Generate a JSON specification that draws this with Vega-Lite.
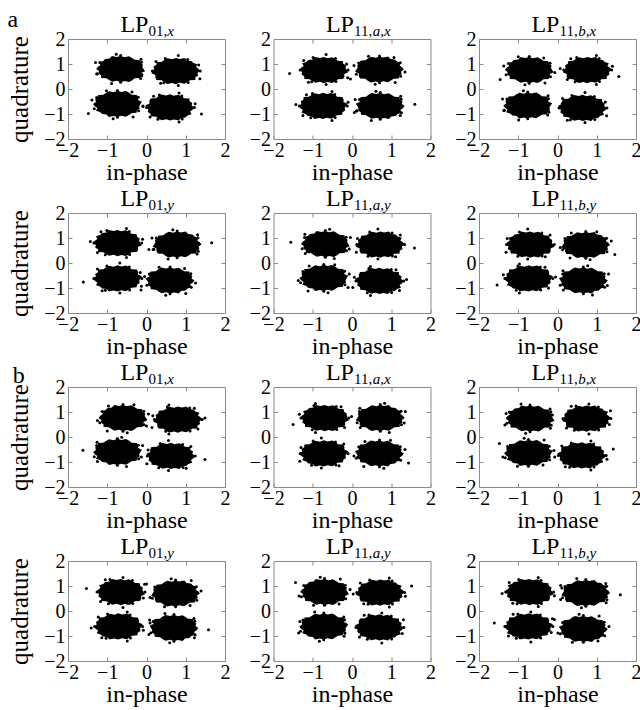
{
"$schema":"https://vega.github.io/schema/vega-lite/v6.json",
"padding":{"left":7,"top":7,"right":0,"bottom":0},
"columns":3,
"spacing":{"row":74,"column":48.5},
"bounds":"flush",
"config":{
"font":"Liberation Serif",
"view":{"stroke":"#8a8a8a","strokeWidth":1},
"axis":{"domain":false,"grid":false,"ticks":true,"tickSize":-4,"tickColor":"#8a8a8a","labelFont":"Liberation Serif","labelFontSize":20,"labelColor":"#000","labelPadding":5,"labelFlush":false,"labelOverlap":false,"labelBound":false,"titleFont":"Liberation Serif","titleFontWeight":"normal","titleColor":"#000","titleFontSize":24},
"axisX":{"titlePadding":0},
"axisY":{"titleFontSize":25,"titlePadding":11,"labelPadding":7},
"text":{"font":"Liberation Serif","color":"#000","baseline":"alphabetic"},
"range":{"symbol":[
"M1,0L1.064,0.103L0.893,0.179L0.901,0.286L0.843,0.389L0.617,0.404L0.51,0.486L0.373,0.564L0.169,0.525L0,0.578L-0.164,0.509L-0.366,0.553L-0.5,0.476L-0.617,0.404L-0.843,0.389L-0.849,0.27L-0.968,0.194L-0.936,0.091L-1.06,0L-0.985,-0.096L-0.874,-0.175L-0.935,-0.297L-0.758,-0.35L-0.669,-0.438L-0.48,-0.457L-0.376,-0.569L-0.169,-0.525L0,-0.561L0.164,-0.509L0.366,-0.553L0.5,-0.476L0.611,-0.4L0.835,-0.385L0.849,-0.27L0.968,-0.194L0.946,-0.092Z",
"M-1,0L-1.064,0.103L-0.893,0.179L-0.901,0.286L-0.843,0.389L-0.617,0.404L-0.51,0.486L-0.373,0.564L-0.169,0.525L0,0.578L0.164,0.509L0.366,0.553L0.5,0.476L0.617,0.404L0.843,0.389L0.849,0.27L0.968,0.194L0.936,0.091L1.06,0L0.985,-0.096L0.874,-0.175L0.935,-0.297L0.758,-0.35L0.669,-0.438L0.48,-0.457L0.376,-0.569L0.169,-0.525L0,-0.561L-0.164,-0.509L-0.366,-0.553L-0.5,-0.476L-0.611,-0.4L-0.835,-0.385L-0.849,-0.27L-0.968,-0.194L-0.946,-0.092Z",
"M1,0L1.064,-0.103L0.893,-0.179L0.901,-0.286L0.843,-0.389L0.617,-0.404L0.51,-0.486L0.373,-0.564L0.169,-0.525L0,-0.578L-0.164,-0.509L-0.366,-0.553L-0.5,-0.476L-0.617,-0.404L-0.843,-0.389L-0.849,-0.27L-0.968,-0.194L-0.936,-0.091L-1.06,0L-0.985,0.096L-0.874,0.175L-0.935,0.297L-0.758,0.35L-0.669,0.438L-0.48,0.457L-0.376,0.569L-0.169,0.525L0,0.561L0.164,0.509L0.366,0.553L0.5,0.476L0.611,0.4L0.835,0.385L0.849,0.27L0.968,0.194L0.946,0.092Z",
"M-1,0L-1.064,-0.103L-0.893,-0.179L-0.901,-0.286L-0.843,-0.389L-0.617,-0.404L-0.51,-0.486L-0.373,-0.564L-0.169,-0.525L0,-0.578L0.164,-0.509L0.366,-0.553L0.5,-0.476L0.617,-0.404L0.843,-0.389L0.849,-0.27L0.968,-0.194L0.936,-0.091L1.06,0L0.985,0.096L0.874,0.175L0.935,0.297L0.758,0.35L0.669,0.438L0.48,0.457L0.376,0.569L0.169,0.525L0,0.561L-0.164,0.509L-0.366,0.553L-0.5,0.476L-0.611,0.4L-0.835,0.385L-0.849,0.27L-0.968,0.194L-0.946,0.092Z"
]}
},
"datasets":{
"ttl":[
{"p":1,"m":"LP","s":"01,","i":"x","g":"a"},
{"p":2,"m":"LP","s":"11,","i":"a,x","g":""},
{"p":3,"m":"LP","s":"11,","i":"b,x","g":""},
{"p":4,"m":"LP","s":"01,","i":"y","g":""},
{"p":5,"m":"LP","s":"11,","i":"a,y","g":""},
{"p":6,"m":"LP","s":"11,","i":"b,y","g":""},
{"p":7,"m":"LP","s":"01,","i":"x","g":"b"},
{"p":8,"m":"LP","s":"11,","i":"a,x","g":""},
{"p":9,"m":"LP","s":"11,","i":"b,x","g":""},
{"p":10,"m":"LP","s":"01,","i":"y","g":""},
{"p":11,"m":"LP","s":"11,","i":"a,y","g":""},
{"p":12,"m":"LP","s":"11,","i":"b,y","g":""}
],
"core":[
{"p":1,"q":"UL","x":-0.66,"y":0.80},{"p":1,"q":"UR","x":0.75,"y":0.72},{"p":1,"q":"LL","x":-0.74,"y":-0.60},{"p":1,"q":"LR","x":0.60,"y":-0.74},
{"p":2,"q":"UL","x":-0.72,"y":0.76},{"p":2,"q":"UR","x":0.70,"y":0.78},{"p":2,"q":"LL","x":-0.74,"y":-0.68},{"p":2,"q":"LR","x":0.72,"y":-0.68},
{"p":3,"q":"UL","x":-0.72,"y":0.76},{"p":3,"q":"UR","x":0.76,"y":0.76},{"p":3,"q":"LL","x":-0.76,"y":-0.66},{"p":3,"q":"LR","x":0.64,"y":-0.76},
{"p":4,"q":"UL","x":-0.74,"y":0.80},{"p":4,"q":"UR","x":0.78,"y":0.74},{"p":4,"q":"LL","x":-0.74,"y":-0.62},{"p":4,"q":"LR","x":0.60,"y":-0.70},
{"p":5,"q":"UL","x":-0.68,"y":0.76},{"p":5,"q":"UR","x":0.72,"y":0.74},{"p":5,"q":"LL","x":-0.72,"y":-0.60},{"p":5,"q":"LR","x":0.70,"y":-0.72},
{"p":6,"q":"UL","x":-0.70,"y":0.74},{"p":6,"q":"UR","x":0.72,"y":0.72},{"p":6,"q":"LL","x":-0.74,"y":-0.62},{"p":6,"q":"LR","x":0.66,"y":-0.70},
{"p":7,"q":"UL","x":-0.60,"y":0.76},{"p":7,"q":"UR","x":0.80,"y":0.70},{"p":7,"q":"LL","x":-0.74,"y":-0.60},{"p":7,"q":"LR","x":0.62,"y":-0.76},
{"p":8,"q":"UL","x":-0.70,"y":0.76},{"p":8,"q":"UR","x":0.72,"y":0.76},{"p":8,"q":"LL","x":-0.72,"y":-0.66},{"p":8,"q":"LR","x":0.70,"y":-0.66},
{"p":9,"q":"UL","x":-0.70,"y":0.74},{"p":9,"q":"UR","x":0.74,"y":0.74},{"p":9,"q":"LL","x":-0.74,"y":-0.64},{"p":9,"q":"LR","x":0.62,"y":-0.74},
{"p":10,"q":"UL","x":-0.66,"y":0.76},{"p":10,"q":"UR","x":0.74,"y":0.70},{"p":10,"q":"LL","x":-0.72,"y":-0.62},{"p":10,"q":"LR","x":0.70,"y":-0.68},
{"p":11,"q":"UL","x":-0.70,"y":0.76},{"p":11,"q":"UR","x":0.72,"y":0.74},{"p":11,"q":"LL","x":-0.72,"y":-0.62},{"p":11,"q":"LR","x":0.70,"y":-0.66},
{"p":12,"q":"UL","x":-0.72,"y":0.76},{"p":12,"q":"UR","x":0.72,"y":0.72},{"p":12,"q":"LL","x":-0.74,"y":-0.62},{"p":12,"q":"LR","x":0.66,"y":-0.72}
],
"pts":[
{"p":1,"x":-0.14,"y":1.19},{"p":1,"x":-0.77,"y":1.39},{"p":1,"x":-1.30,"y":1.06},{"p":1,"x":-1.27,"y":0.60},{"p":1,"x":-0.89,"y":0.22},{"p":1,"x":-0.15,"y":0.42},{"p":1,"x":0.22,"y":0.87},
{"p":1,"x":1.33,"y":0.96},{"p":1,"x":0.81,"y":1.34},{"p":1,"x":0.24,"y":1.10},{"p":1,"x":-0.12,"y":0.58},{"p":1,"x":0.36,"y":0.23},{"p":1,"x":0.81,"y":0.14},{"p":1,"x":1.36,"y":0.41},
{"p":1,"x":-0.37,"y":-0.12},{"p":1,"x":-1.02,"y":-0.07},{"p":1,"x":-1.39,"y":-0.44},{"p":1,"x":-1.48,"y":-0.98},{"p":1,"x":-0.85,"y":-1.19},{"p":1,"x":-0.34,"y":-1.12},{"p":1,"x":-0.09,"y":-0.70},
{"p":1,"x":1.24,"y":-0.59},{"p":1,"x":0.83,"y":-0.16},{"p":1,"x":0.18,"y":-0.29},{"p":1,"x":-0.09,"y":-0.68},{"p":1,"x":0.09,"y":-1.12},{"p":1,"x":0.83,"y":-1.32},{"p":1,"x":1.40,"y":-1.00},
{"p":1,"x":-0.13,"y":1.07},{"p":1,"x":-0.66,"y":1.34},{"p":1,"x":-1.19,"y":1.06},{"p":1,"x":-1.25,"y":0.61},{"p":1,"x":-0.66,"y":0.27},{"p":1,"x":-0.12,"y":0.53},
{"p":1,"x":1.37,"y":0.72},{"p":1,"x":1.05,"y":1.18},{"p":1,"x":0.48,"y":1.22},{"p":1,"x":0.15,"y":0.72},{"p":1,"x":0.44,"y":0.25},{"p":1,"x":1.06,"y":0.26},
{"p":1,"x":-0.21,"y":-0.33},{"p":1,"x":-0.74,"y":-0.06},{"p":1,"x":-1.27,"y":-0.34},{"p":1,"x":-1.33,"y":-0.79},{"p":1,"x":-0.74,"y":-1.13},{"p":1,"x":-0.20,"y":-0.87},
{"p":1,"x":1.22,"y":-0.74},{"p":1,"x":0.90,"y":-0.28},{"p":1,"x":0.33,"y":-0.24},{"p":1,"x":0.00,"y":-0.74},{"p":1,"x":0.29,"y":-1.21},{"p":1,"x":0.91,"y":-1.20},
{"p":2,"x":-0.14,"y":1.00},{"p":2,"x":-0.66,"y":1.38},{"p":2,"x":-1.23,"y":1.14},{"p":2,"x":-1.59,"y":0.62},{"p":2,"x":-1.11,"y":0.27},{"p":2,"x":-0.66,"y":0.18},{"p":2,"x":-0.11,"y":0.45},
{"p":2,"x":1.07,"y":1.26},{"p":2,"x":0.42,"y":1.31},{"p":2,"x":0.05,"y":0.94},{"p":2,"x":-0.04,"y":0.40},{"p":2,"x":0.59,"y":0.19},{"p":2,"x":1.10,"y":0.26},{"p":2,"x":1.35,"y":0.68},
{"p":2,"x":-0.10,"y":-0.53},{"p":2,"x":-0.51,"y":-0.10},{"p":2,"x":-1.16,"y":-0.23},{"p":2,"x":-1.43,"y":-0.62},{"p":2,"x":-1.25,"y":-1.06},{"p":2,"x":-0.51,"y":-1.26},{"p":2,"x":0.06,"y":-0.94},
{"p":2,"x":1.24,"y":-0.29},{"p":2,"x":0.61,"y":-0.09},{"p":2,"x":0.08,"y":-0.42},{"p":2,"x":0.11,"y":-0.88},{"p":2,"x":0.49,"y":-1.26},{"p":2,"x":1.23,"y":-1.06},{"p":2,"x":1.60,"y":-0.61},
{"p":2,"x":-0.10,"y":0.76},{"p":2,"x":-0.42,"y":1.22},{"p":2,"x":-0.99,"y":1.26},{"p":2,"x":-1.32,"y":0.76},{"p":2,"x":-1.03,"y":0.29},{"p":2,"x":-0.41,"y":0.30},
{"p":2,"x":1.23,"y":1.05},{"p":2,"x":0.70,"y":1.32},{"p":2,"x":0.17,"y":1.04},{"p":2,"x":0.11,"y":0.59},{"p":2,"x":0.70,"y":0.25},{"p":2,"x":1.24,"y":0.51},
{"p":2,"x":-0.12,"y":-0.68},{"p":2,"x":-0.44,"y":-0.22},{"p":2,"x":-1.01,"y":-0.18},{"p":2,"x":-1.34,"y":-0.68},{"p":2,"x":-1.05,"y":-1.15},{"p":2,"x":-0.43,"y":-1.14},
{"p":2,"x":1.25,"y":-0.41},{"p":2,"x":0.72,"y":-0.14},{"p":2,"x":0.19,"y":-0.42},{"p":2,"x":0.13,"y":-0.87},{"p":2,"x":0.72,"y":-1.21},{"p":2,"x":1.26,"y":-0.95},
{"p":3,"x":-0.35,"y":1.24},{"p":3,"x":-1.00,"y":1.29},{"p":3,"x":-1.37,"y":0.92},{"p":3,"x":-1.46,"y":0.38},{"p":3,"x":-0.83,"y":0.17},{"p":3,"x":-0.32,"y":0.24},{"p":3,"x":-0.07,"y":0.66},
{"p":3,"x":1.40,"y":0.91},{"p":3,"x":0.99,"y":1.34},{"p":3,"x":0.34,"y":1.21},{"p":3,"x":0.07,"y":0.82},{"p":3,"x":0.25,"y":0.38},{"p":3,"x":0.99,"y":0.18},{"p":3,"x":1.56,"y":0.50},
{"p":3,"x":-0.24,"y":-0.27},{"p":3,"x":-0.87,"y":-0.07},{"p":3,"x":-1.40,"y":-0.40},{"p":3,"x":-1.37,"y":-0.86},{"p":3,"x":-0.99,"y":-1.24},{"p":3,"x":-0.25,"y":-1.04},{"p":3,"x":0.12,"y":-0.59},
{"p":3,"x":1.22,"y":-0.52},{"p":3,"x":0.70,"y":-0.14},{"p":3,"x":0.13,"y":-0.38},{"p":3,"x":-0.23,"y":-0.90},{"p":3,"x":0.25,"y":-1.25},{"p":3,"x":0.70,"y":-1.34},{"p":3,"x":1.25,"y":-1.07},
{"p":3,"x":-0.19,"y":1.03},{"p":3,"x":-0.72,"y":1.30},{"p":3,"x":-1.25,"y":1.02},{"p":3,"x":-1.31,"y":0.57},{"p":3,"x":-0.72,"y":0.23},{"p":3,"x":-0.18,"y":0.49},
{"p":3,"x":1.38,"y":0.76},{"p":3,"x":1.06,"y":1.22},{"p":3,"x":0.49,"y":1.26},{"p":3,"x":0.16,"y":0.76},{"p":3,"x":0.45,"y":0.29},{"p":3,"x":1.07,"y":0.30},
{"p":3,"x":-0.23,"y":-0.39},{"p":3,"x":-0.76,"y":-0.12},{"p":3,"x":-1.29,"y":-0.40},{"p":3,"x":-1.35,"y":-0.85},{"p":3,"x":-0.76,"y":-1.19},{"p":3,"x":-0.22,"y":-0.93},
{"p":3,"x":1.26,"y":-0.76},{"p":3,"x":0.94,"y":-0.30},{"p":3,"x":0.37,"y":-0.26},{"p":3,"x":0.04,"y":-0.76},{"p":3,"x":0.33,"y":-1.23},{"p":3,"x":0.95,"y":-1.22},
{"p":4,"x":-0.10,"y":0.95},{"p":4,"x":-0.51,"y":1.38},{"p":4,"x":-1.16,"y":1.25},{"p":4,"x":-1.43,"y":0.86},{"p":4,"x":-1.25,"y":0.42},{"p":4,"x":-0.51,"y":0.22},{"p":4,"x":0.06,"y":0.54},
{"p":4,"x":1.30,"y":1.13},{"p":4,"x":0.67,"y":1.33},{"p":4,"x":0.14,"y":1.00},{"p":4,"x":0.17,"y":0.54},{"p":4,"x":0.55,"y":0.16},{"p":4,"x":1.29,"y":0.36},{"p":4,"x":1.66,"y":0.81},
{"p":4,"x":-0.16,"y":-0.38},{"p":4,"x":-0.68,"y":0.00},{"p":4,"x":-1.25,"y":-0.24},{"p":4,"x":-1.61,"y":-0.76},{"p":4,"x":-1.13,"y":-1.11},{"p":4,"x":-0.68,"y":-1.20},{"p":4,"x":-0.13,"y":-0.93},
{"p":4,"x":0.97,"y":-0.22},{"p":4,"x":0.32,"y":-0.17},{"p":4,"x":-0.05,"y":-0.54},{"p":4,"x":-0.14,"y":-1.08},{"p":4,"x":0.49,"y":-1.29},{"p":4,"x":1.00,"y":-1.22},{"p":4,"x":1.25,"y":-0.80},
{"p":4,"x":-0.12,"y":0.80},{"p":4,"x":-0.44,"y":1.26},{"p":4,"x":-1.01,"y":1.30},{"p":4,"x":-1.34,"y":0.80},{"p":4,"x":-1.05,"y":0.33},{"p":4,"x":-0.43,"y":0.34},
{"p":4,"x":1.31,"y":1.01},{"p":4,"x":0.78,"y":1.28},{"p":4,"x":0.25,"y":1.00},{"p":4,"x":0.19,"y":0.55},{"p":4,"x":0.78,"y":0.21},{"p":4,"x":1.32,"y":0.47},
{"p":4,"x":-0.12,"y":-0.62},{"p":4,"x":-0.44,"y":-0.16},{"p":4,"x":-1.01,"y":-0.12},{"p":4,"x":-1.34,"y":-0.62},{"p":4,"x":-1.05,"y":-1.09},{"p":4,"x":-0.43,"y":-1.08},
{"p":4,"x":1.13,"y":-0.43},{"p":4,"x":0.60,"y":-0.16},{"p":4,"x":0.07,"y":-0.44},{"p":4,"x":0.01,"y":-0.89},{"p":4,"x":0.60,"y":-1.23},{"p":4,"x":1.14,"y":-0.97},
{"p":5,"x":-1.20,"y":1.15},{"p":5,"x":-0.57,"y":1.35},{"p":5,"x":-0.04,"y":1.02},{"p":5,"x":-0.07,"y":0.56},{"p":5,"x":-0.45,"y":0.18},{"p":5,"x":-1.19,"y":0.38},{"p":5,"x":-1.56,"y":0.83},
{"p":5,"x":0.14,"y":0.98},{"p":5,"x":0.66,"y":1.36},{"p":5,"x":1.23,"y":1.12},{"p":5,"x":1.59,"y":0.60},{"p":5,"x":1.11,"y":0.25},{"p":5,"x":0.66,"y":0.16},{"p":5,"x":0.11,"y":0.43},
{"p":5,"x":-1.09,"y":-0.12},{"p":5,"x":-0.44,"y":-0.07},{"p":5,"x":-0.07,"y":-0.44},{"p":5,"x":0.02,"y":-0.98},{"p":5,"x":-0.61,"y":-1.19},{"p":5,"x":-1.12,"y":-1.12},{"p":5,"x":-1.37,"y":-0.70},
{"p":5,"x":0.06,"y":-0.57},{"p":5,"x":0.47,"y":-0.14},{"p":5,"x":1.12,"y":-0.27},{"p":5,"x":1.39,"y":-0.66},{"p":5,"x":1.21,"y":-1.10},{"p":5,"x":0.47,"y":-1.30},{"p":5,"x":-0.10,"y":-0.98},
{"p":5,"x":-0.15,"y":1.03},{"p":5,"x":-0.68,"y":1.30},{"p":5,"x":-1.21,"y":1.02},{"p":5,"x":-1.27,"y":0.57},{"p":5,"x":-0.68,"y":0.23},{"p":5,"x":-0.14,"y":0.49},
{"p":5,"x":1.34,"y":0.74},{"p":5,"x":1.02,"y":1.20},{"p":5,"x":0.45,"y":1.24},{"p":5,"x":0.12,"y":0.74},{"p":5,"x":0.41,"y":0.27},{"p":5,"x":1.03,"y":0.28},
{"p":5,"x":-0.19,"y":-0.33},{"p":5,"x":-0.72,"y":-0.06},{"p":5,"x":-1.25,"y":-0.34},{"p":5,"x":-1.31,"y":-0.79},{"p":5,"x":-0.72,"y":-1.13},{"p":5,"x":-0.18,"y":-0.87},
{"p":5,"x":1.32,"y":-0.72},{"p":5,"x":1.00,"y":-0.26},{"p":5,"x":0.43,"y":-0.22},{"p":5,"x":0.10,"y":-0.72},{"p":5,"x":0.39,"y":-1.19},{"p":5,"x":1.01,"y":-1.18},
{"p":6,"x":-1.28,"y":0.98},{"p":6,"x":-0.76,"y":1.36},{"p":6,"x":-0.19,"y":1.12},{"p":6,"x":0.17,"y":0.60},{"p":6,"x":-0.31,"y":0.25},{"p":6,"x":-0.76,"y":0.16},{"p":6,"x":-1.31,"y":0.43},
{"p":6,"x":0.35,"y":1.20},{"p":6,"x":1.00,"y":1.25},{"p":6,"x":1.37,"y":0.88},{"p":6,"x":1.46,"y":0.34},{"p":6,"x":0.83,"y":0.13},{"p":6,"x":0.32,"y":0.20},{"p":6,"x":0.07,"y":0.62},
{"p":6,"x":-1.38,"y":-0.47},{"p":6,"x":-0.97,"y":-0.04},{"p":6,"x":-0.32,"y":-0.17},{"p":6,"x":-0.05,"y":-0.56},{"p":6,"x":-0.23,"y":-1.00},{"p":6,"x":-0.97,"y":-1.20},{"p":6,"x":-1.54,"y":-0.88},
{"p":6,"x":0.14,"y":-0.31},{"p":6,"x":0.77,"y":-0.11},{"p":6,"x":1.30,"y":-0.44},{"p":6,"x":1.27,"y":-0.90},{"p":6,"x":0.89,"y":-1.28},{"p":6,"x":0.15,"y":-1.08},{"p":6,"x":-0.22,"y":-0.63},
{"p":6,"x":-0.08,"y":0.74},{"p":6,"x":-0.40,"y":1.20},{"p":6,"x":-0.97,"y":1.24},{"p":6,"x":-1.30,"y":0.74},{"p":6,"x":-1.01,"y":0.27},{"p":6,"x":-0.39,"y":0.28},
{"p":6,"x":1.25,"y":0.99},{"p":6,"x":0.72,"y":1.26},{"p":6,"x":0.19,"y":0.98},{"p":6,"x":0.13,"y":0.53},{"p":6,"x":0.72,"y":0.19},{"p":6,"x":1.26,"y":0.45},
{"p":6,"x":-0.12,"y":-0.62},{"p":6,"x":-0.44,"y":-0.16},{"p":6,"x":-1.01,"y":-0.12},{"p":6,"x":-1.34,"y":-0.62},{"p":6,"x":-1.05,"y":-1.09},{"p":6,"x":-0.43,"y":-1.08},
{"p":6,"x":1.19,"y":-0.43},{"p":6,"x":0.66,"y":-0.16},{"p":6,"x":0.13,"y":-0.44},{"p":6,"x":0.07,"y":-0.89},{"p":6,"x":0.66,"y":-1.23},{"p":6,"x":1.20,"y":-0.97},
{"p":7,"x":-0.97,"y":1.24},{"p":7,"x":-0.32,"y":1.29},{"p":7,"x":0.05,"y":0.92},{"p":7,"x":0.14,"y":0.38},{"p":7,"x":-0.49,"y":0.17},{"p":7,"x":-1.00,"y":0.24},{"p":7,"x":-1.25,"y":0.66},
{"p":7,"x":0.16,"y":0.85},{"p":7,"x":0.57,"y":1.28},{"p":7,"x":1.22,"y":1.15},{"p":7,"x":1.49,"y":0.76},{"p":7,"x":1.31,"y":0.32},{"p":7,"x":0.57,"y":0.12},{"p":7,"x":0.00,"y":0.44},
{"p":7,"x":-1.26,"y":-0.21},{"p":7,"x":-0.63,"y":-0.01},{"p":7,"x":-0.10,"y":-0.34},{"p":7,"x":-0.13,"y":-0.80},{"p":7,"x":-0.51,"y":-1.18},{"p":7,"x":-1.25,"y":-0.98},{"p":7,"x":-1.62,"y":-0.53},
{"p":7,"x":0.04,"y":-0.52},{"p":7,"x":0.56,"y":-0.14},{"p":7,"x":1.13,"y":-0.38},{"p":7,"x":1.49,"y":-0.90},{"p":7,"x":1.01,"y":-1.25},{"p":7,"x":0.56,"y":-1.34},{"p":7,"x":0.01,"y":-1.07},
{"p":7,"x":-0.07,"y":1.03},{"p":7,"x":-0.60,"y":1.30},{"p":7,"x":-1.13,"y":1.02},{"p":7,"x":-1.19,"y":0.57},{"p":7,"x":-0.60,"y":0.23},{"p":7,"x":-0.06,"y":0.49},
{"p":7,"x":1.42,"y":0.70},{"p":7,"x":1.10,"y":1.16},{"p":7,"x":0.53,"y":1.20},{"p":7,"x":0.20,"y":0.70},{"p":7,"x":0.49,"y":0.23},{"p":7,"x":1.11,"y":0.24},
{"p":7,"x":-0.21,"y":-0.33},{"p":7,"x":-0.74,"y":-0.06},{"p":7,"x":-1.27,"y":-0.34},{"p":7,"x":-1.33,"y":-0.79},{"p":7,"x":-0.74,"y":-1.13},{"p":7,"x":-0.20,"y":-0.87},
{"p":7,"x":1.24,"y":-0.76},{"p":7,"x":0.92,"y":-0.30},{"p":7,"x":0.35,"y":-0.26},{"p":7,"x":0.02,"y":-0.76},{"p":7,"x":0.31,"y":-1.23},{"p":7,"x":0.93,"y":-1.22},
{"p":8,"x":-1.34,"y":0.91},{"p":8,"x":-0.93,"y":1.34},{"p":8,"x":-0.28,"y":1.21},{"p":8,"x":-0.01,"y":0.82},{"p":8,"x":-0.19,"y":0.38},{"p":8,"x":-0.93,"y":0.18},{"p":8,"x":-1.50,"y":0.50},
{"p":8,"x":0.20,"y":1.15},{"p":8,"x":0.83,"y":1.35},{"p":8,"x":1.36,"y":1.02},{"p":8,"x":1.33,"y":0.56},{"p":8,"x":0.95,"y":0.18},{"p":8,"x":0.21,"y":0.38},{"p":8,"x":-0.16,"y":0.83},
{"p":8,"x":-1.30,"y":-0.42},{"p":8,"x":-0.78,"y":-0.04},{"p":8,"x":-0.21,"y":-0.28},{"p":8,"x":0.15,"y":-0.80},{"p":8,"x":-0.33,"y":-1.15},{"p":8,"x":-0.78,"y":-1.24},{"p":8,"x":-1.33,"y":-0.97},
{"p":8,"x":0.33,"y":-0.18},{"p":8,"x":0.98,"y":-0.13},{"p":8,"x":1.35,"y":-0.50},{"p":8,"x":1.44,"y":-1.04},{"p":8,"x":0.81,"y":-1.25},{"p":8,"x":0.30,"y":-1.18},{"p":8,"x":0.05,"y":-0.76},
{"p":8,"x":-0.08,"y":0.76},{"p":8,"x":-0.40,"y":1.22},{"p":8,"x":-0.97,"y":1.26},{"p":8,"x":-1.30,"y":0.76},{"p":8,"x":-1.01,"y":0.29},{"p":8,"x":-0.39,"y":0.30},
{"p":8,"x":1.25,"y":1.03},{"p":8,"x":0.72,"y":1.30},{"p":8,"x":0.19,"y":1.02},{"p":8,"x":0.13,"y":0.57},{"p":8,"x":0.72,"y":0.23},{"p":8,"x":1.26,"y":0.49},
{"p":8,"x":-0.10,"y":-0.66},{"p":8,"x":-0.42,"y":-0.20},{"p":8,"x":-0.99,"y":-0.16},{"p":8,"x":-1.32,"y":-0.66},{"p":8,"x":-1.03,"y":-1.13},{"p":8,"x":-0.41,"y":-1.12},
{"p":8,"x":1.23,"y":-0.39},{"p":8,"x":0.70,"y":-0.12},{"p":8,"x":0.17,"y":-0.40},{"p":8,"x":0.11,"y":-0.85},{"p":8,"x":0.70,"y":-1.19},{"p":8,"x":1.24,"y":-0.93},
{"p":9,"x":-0.18,"y":0.35},{"p":9,"x":-0.81,"y":0.15},{"p":9,"x":-1.34,"y":0.48},{"p":9,"x":-1.31,"y":0.94},{"p":9,"x":-0.93,"y":1.32},{"p":9,"x":-0.19,"y":1.12},{"p":9,"x":0.18,"y":0.67},
{"p":9,"x":1.32,"y":0.50},{"p":9,"x":0.80,"y":0.12},{"p":9,"x":0.23,"y":0.36},{"p":9,"x":-0.13,"y":0.88},{"p":9,"x":0.35,"y":1.23},{"p":9,"x":0.80,"y":1.32},{"p":9,"x":1.35,"y":1.05},
{"p":9,"x":-0.37,"y":-1.12},{"p":9,"x":-1.02,"y":-1.17},{"p":9,"x":-1.39,"y":-0.80},{"p":9,"x":-1.48,"y":-0.26},{"p":9,"x":-0.85,"y":-0.05},{"p":9,"x":-0.34,"y":-0.12},{"p":9,"x":-0.09,"y":-0.54},
{"p":9,"x":1.26,"y":-0.89},{"p":9,"x":0.85,"y":-1.32},{"p":9,"x":0.20,"y":-1.19},{"p":9,"x":-0.07,"y":-0.80},{"p":9,"x":0.11,"y":-0.36},{"p":9,"x":0.85,"y":-0.16},{"p":9,"x":1.42,"y":-0.48},
{"p":9,"x":-0.17,"y":1.01},{"p":9,"x":-0.70,"y":1.28},{"p":9,"x":-1.23,"y":1.00},{"p":9,"x":-1.29,"y":0.55},{"p":9,"x":-0.70,"y":0.21},{"p":9,"x":-0.16,"y":0.47},
{"p":9,"x":1.36,"y":0.74},{"p":9,"x":1.04,"y":1.20},{"p":9,"x":0.47,"y":1.24},{"p":9,"x":0.14,"y":0.74},{"p":9,"x":0.43,"y":0.27},{"p":9,"x":1.05,"y":0.28},
{"p":9,"x":-0.21,"y":-0.37},{"p":9,"x":-0.74,"y":-0.10},{"p":9,"x":-1.27,"y":-0.38},{"p":9,"x":-1.33,"y":-0.83},{"p":9,"x":-0.74,"y":-1.17},{"p":9,"x":-0.20,"y":-0.91},
{"p":9,"x":1.24,"y":-0.74},{"p":9,"x":0.92,"y":-0.28},{"p":9,"x":0.35,"y":-0.24},{"p":9,"x":0.02,"y":-0.74},{"p":9,"x":0.31,"y":-1.21},{"p":9,"x":0.93,"y":-1.20},
{"p":10,"x":-0.08,"y":0.52},{"p":10,"x":-0.60,"y":0.14},{"p":10,"x":-1.17,"y":0.38},{"p":10,"x":-1.53,"y":0.90},{"p":10,"x":-1.05,"y":1.25},{"p":10,"x":-0.60,"y":1.34},{"p":10,"x":-0.05,"y":1.07},
{"p":10,"x":1.11,"y":0.22},{"p":10,"x":0.46,"y":0.17},{"p":10,"x":0.09,"y":0.54},{"p":10,"x":0.00,"y":1.08},{"p":10,"x":0.63,"y":1.29},{"p":10,"x":1.14,"y":1.22},{"p":10,"x":1.39,"y":0.80},
{"p":10,"x":-0.08,"y":-0.77},{"p":10,"x":-0.49,"y":-1.20},{"p":10,"x":-1.14,"y":-1.07},{"p":10,"x":-1.41,"y":-0.68},{"p":10,"x":-1.23,"y":-0.24},{"p":10,"x":-0.49,"y":-0.04},{"p":10,"x":0.08,"y":-0.36},
{"p":10,"x":1.22,"y":-1.07},{"p":10,"x":0.59,"y":-1.27},{"p":10,"x":0.06,"y":-0.94},{"p":10,"x":0.09,"y":-0.48},{"p":10,"x":0.47,"y":-0.10},{"p":10,"x":1.21,"y":-0.30},{"p":10,"x":1.58,"y":-0.75},
{"p":10,"x":-0.04,"y":0.76},{"p":10,"x":-0.36,"y":1.22},{"p":10,"x":-0.93,"y":1.26},{"p":10,"x":-1.26,"y":0.76},{"p":10,"x":-0.97,"y":0.29},{"p":10,"x":-0.35,"y":0.30},
{"p":10,"x":1.27,"y":0.97},{"p":10,"x":0.74,"y":1.24},{"p":10,"x":0.21,"y":0.96},{"p":10,"x":0.15,"y":0.51},{"p":10,"x":0.74,"y":0.17},{"p":10,"x":1.28,"y":0.43},
{"p":10,"x":-0.10,"y":-0.62},{"p":10,"x":-0.42,"y":-0.16},{"p":10,"x":-0.99,"y":-0.12},{"p":10,"x":-1.32,"y":-0.62},{"p":10,"x":-1.03,"y":-1.09},{"p":10,"x":-0.41,"y":-1.08},
{"p":10,"x":1.23,"y":-0.41},{"p":10,"x":0.70,"y":-0.14},{"p":10,"x":0.17,"y":-0.42},{"p":10,"x":0.11,"y":-0.87},{"p":10,"x":0.70,"y":-1.21},{"p":10,"x":1.24,"y":-0.95},
{"p":11,"x":-0.33,"y":0.28},{"p":11,"x":-0.98,"y":0.23},{"p":11,"x":-1.35,"y":0.60},{"p":11,"x":-1.44,"y":1.14},{"p":11,"x":-0.81,"y":1.35},{"p":11,"x":-0.30,"y":1.28},{"p":11,"x":-0.05,"y":0.86},
{"p":11,"x":1.36,"y":0.59},{"p":11,"x":0.95,"y":0.16},{"p":11,"x":0.30,"y":0.29},{"p":11,"x":0.03,"y":0.68},{"p":11,"x":0.21,"y":1.12},{"p":11,"x":0.95,"y":1.32},{"p":11,"x":1.52,"y":1.00},
{"p":11,"x":-0.20,"y":-1.01},{"p":11,"x":-0.83,"y":-1.21},{"p":11,"x":-1.36,"y":-0.88},{"p":11,"x":-1.33,"y":-0.42},{"p":11,"x":-0.95,"y":-0.04},{"p":11,"x":-0.21,"y":-0.24},{"p":11,"x":0.16,"y":-0.69},
{"p":11,"x":1.28,"y":-0.90},{"p":11,"x":0.76,"y":-1.28},{"p":11,"x":0.19,"y":-1.04},{"p":11,"x":-0.17,"y":-0.52},{"p":11,"x":0.31,"y":-0.17},{"p":11,"x":0.76,"y":-0.08},{"p":11,"x":1.31,"y":-0.35},
{"p":11,"x":-0.17,"y":1.03},{"p":11,"x":-0.70,"y":1.30},{"p":11,"x":-1.23,"y":1.02},{"p":11,"x":-1.29,"y":0.57},{"p":11,"x":-0.70,"y":0.23},{"p":11,"x":-0.16,"y":0.49},
{"p":11,"x":1.34,"y":0.74},{"p":11,"x":1.02,"y":1.20},{"p":11,"x":0.45,"y":1.24},{"p":11,"x":0.12,"y":0.74},{"p":11,"x":0.41,"y":0.27},{"p":11,"x":1.03,"y":0.28},
{"p":11,"x":-0.19,"y":-0.35},{"p":11,"x":-0.72,"y":-0.08},{"p":11,"x":-1.25,"y":-0.36},{"p":11,"x":-1.31,"y":-0.81},{"p":11,"x":-0.72,"y":-1.15},{"p":11,"x":-0.18,"y":-0.89},
{"p":11,"x":1.32,"y":-0.66},{"p":11,"x":1.00,"y":-0.20},{"p":11,"x":0.43,"y":-0.16},{"p":11,"x":0.10,"y":-0.66},{"p":11,"x":0.39,"y":-1.13},{"p":11,"x":1.01,"y":-1.12},
{"p":12,"x":-0.08,"y":0.61},{"p":12,"x":-0.49,"y":0.18},{"p":12,"x":-1.14,"y":0.31},{"p":12,"x":-1.41,"y":0.70},{"p":12,"x":-1.23,"y":1.14},{"p":12,"x":-0.49,"y":1.34},{"p":12,"x":0.08,"y":1.02},
{"p":12,"x":1.24,"y":0.33},{"p":12,"x":0.61,"y":0.13},{"p":12,"x":0.08,"y":0.46},{"p":12,"x":0.11,"y":0.92},{"p":12,"x":0.49,"y":1.30},{"p":12,"x":1.23,"y":1.10},{"p":12,"x":1.60,"y":0.65},
{"p":12,"x":-0.16,"y":-0.86},{"p":12,"x":-0.68,"y":-1.24},{"p":12,"x":-1.25,"y":-1.00},{"p":12,"x":-1.61,"y":-0.48},{"p":12,"x":-1.13,"y":-0.13},{"p":12,"x":-0.68,"y":-0.04},{"p":12,"x":-0.13,"y":-0.31},
{"p":12,"x":1.03,"y":-1.20},{"p":12,"x":0.38,"y":-1.25},{"p":12,"x":0.01,"y":-0.88},{"p":12,"x":-0.08,"y":-0.34},{"p":12,"x":0.55,"y":-0.13},{"p":12,"x":1.06,"y":-0.20},{"p":12,"x":1.31,"y":-0.62},
{"p":12,"x":-0.10,"y":0.76},{"p":12,"x":-0.42,"y":1.22},{"p":12,"x":-0.99,"y":1.26},{"p":12,"x":-1.32,"y":0.76},{"p":12,"x":-1.03,"y":0.29},{"p":12,"x":-0.41,"y":0.30},
{"p":12,"x":1.25,"y":0.99},{"p":12,"x":0.72,"y":1.26},{"p":12,"x":0.19,"y":0.98},{"p":12,"x":0.13,"y":0.53},{"p":12,"x":0.72,"y":0.19},{"p":12,"x":1.26,"y":0.45},
{"p":12,"x":-0.12,"y":-0.62},{"p":12,"x":-0.44,"y":-0.16},{"p":12,"x":-1.01,"y":-0.12},{"p":12,"x":-1.34,"y":-0.62},{"p":12,"x":-1.05,"y":-1.09},{"p":12,"x":-0.43,"y":-1.08},
{"p":12,"x":1.19,"y":-0.45},{"p":12,"x":0.66,"y":-0.18},{"p":12,"x":0.13,"y":-0.46},{"p":12,"x":0.07,"y":-0.91},{"p":12,"x":0.66,"y":-1.25},{"p":12,"x":1.20,"y":-0.99}
]
},
"concat":[
{"width":157,"height":100,"layer":[
{"data":{"name":"core"},"transform":[{"filter":"datum.p==1"}],"mark":{"type":"point","filled":true,"opacity":1,"color":"#000","size":2116,"strokeWidth":0},"encoding":{"x":{"field":"x","type":"quantitative","scale":{"domain":[-2,2]},"axis":{"orient":"top","labels":false,"title":null,"values":[-1,0,1]}},"y":{"field":"y","type":"quantitative","scale":{"domain":[-2,2]},"axis":{"orient":"right","labels":false,"title":null,"values":[-1,0,1]}},"shape":{"field":"q","type":"nominal","scale":{"domain":["UL","UR","LL","LR"]},"legend":null}}},
{"data":{"name":"pts"},"transform":[{"filter":"datum.p==1"}],"mark":{"type":"circle","color":"#000","opacity":1,"size":9},"encoding":{"x":{"field":"x","type":"quantitative","scale":{"domain":[-2,2]},"axis":{"orient":"bottom","title":"in-phase","values":[-2,-1,0,1,2]}},"y":{"field":"y","type":"quantitative","scale":{"domain":[-2,2]},"axis":{"orient":"left","title":"quadrature","values":[-2,-1,0,1,2]}}}},
{"data":{"name":"ttl"},"transform":[{"filter":"datum.p==1"}],"layer":[
{"mark":{"type":"text","align":"right","fontSize":24},"encoding":{"text":{"field":"m"},"x":{"datum":0.05,"scale":{"domain":[-2,2]},"axis":null},"y":{"datum":2.3,"scale":{"domain":[-2,2]},"axis":null}}},
{"mark":{"type":"text","align":"left","fontSize":15},"encoding":{"text":{"field":"s"},"x":{"datum":0.05,"scale":{"domain":[-2,2]},"axis":null},"y":{"datum":2.12,"scale":{"domain":[-2,2]},"axis":null}}},
{"mark":{"type":"text","align":"left","fontSize":15,"fontStyle":"italic"},"encoding":{"text":{"field":"i"},"x":{"datum":0.53,"scale":{"domain":[-2,2]},"axis":null},"y":{"datum":2.12,"scale":{"domain":[-2,2]},"axis":null}}},
{"mark":{"type":"text","align":"left","fontSize":24},"encoding":{"text":{"field":"g"},"x":{"datum":-3.54,"scale":{"domain":[-2,2]},"axis":null},"y":{"datum":2.5,"scale":{"domain":[-2,2]},"axis":null}}}
]}
]},
{"width":157,"height":100,"layer":[
{"data":{"name":"core"},"transform":[{"filter":"datum.p==2"}],"mark":{"type":"point","filled":true,"opacity":1,"color":"#000","size":2116,"strokeWidth":0},"encoding":{"x":{"field":"x","type":"quantitative","scale":{"domain":[-2,2]},"axis":{"orient":"top","labels":false,"title":null,"values":[-1,0,1]}},"y":{"field":"y","type":"quantitative","scale":{"domain":[-2,2]},"axis":{"orient":"right","labels":false,"title":null,"values":[-1,0,1]}},"shape":{"field":"q","type":"nominal","scale":{"domain":["UL","UR","LL","LR"]},"legend":null}}},
{"data":{"name":"pts"},"transform":[{"filter":"datum.p==2"}],"mark":{"type":"circle","color":"#000","opacity":1,"size":9},"encoding":{"x":{"field":"x","type":"quantitative","scale":{"domain":[-2,2]},"axis":{"orient":"bottom","title":"in-phase","values":[-2,-1,0,1,2]}},"y":{"field":"y","type":"quantitative","scale":{"domain":[-2,2]},"axis":{"orient":"left","title":null,"values":[-2,-1,0,1,2]}}}},
{"data":{"name":"ttl"},"transform":[{"filter":"datum.p==2"}],"layer":[
{"mark":{"type":"text","align":"right","fontSize":24},"encoding":{"text":{"field":"m"},"x":{"datum":0.05,"scale":{"domain":[-2,2]},"axis":null},"y":{"datum":2.3,"scale":{"domain":[-2,2]},"axis":null}}},
{"mark":{"type":"text","align":"left","fontSize":15},"encoding":{"text":{"field":"s"},"x":{"datum":0.05,"scale":{"domain":[-2,2]},"axis":null},"y":{"datum":2.12,"scale":{"domain":[-2,2]},"axis":null}}},
{"mark":{"type":"text","align":"left","fontSize":15,"fontStyle":"italic"},"encoding":{"text":{"field":"i"},"x":{"datum":0.53,"scale":{"domain":[-2,2]},"axis":null},"y":{"datum":2.12,"scale":{"domain":[-2,2]},"axis":null}}}
]}
]},
{"width":157,"height":100,"layer":[
{"data":{"name":"core"},"transform":[{"filter":"datum.p==3"}],"mark":{"type":"point","filled":true,"opacity":1,"color":"#000","size":2116,"strokeWidth":0},"encoding":{"x":{"field":"x","type":"quantitative","scale":{"domain":[-2,2]},"axis":{"orient":"top","labels":false,"title":null,"values":[-1,0,1]}},"y":{"field":"y","type":"quantitative","scale":{"domain":[-2,2]},"axis":{"orient":"right","labels":false,"title":null,"values":[-1,0,1]}},"shape":{"field":"q","type":"nominal","scale":{"domain":["UL","UR","LL","LR"]},"legend":null}}},
{"data":{"name":"pts"},"transform":[{"filter":"datum.p==3"}],"mark":{"type":"circle","color":"#000","opacity":1,"size":9},"encoding":{"x":{"field":"x","type":"quantitative","scale":{"domain":[-2,2]},"axis":{"orient":"bottom","title":"in-phase","values":[-2,-1,0,1,2]}},"y":{"field":"y","type":"quantitative","scale":{"domain":[-2,2]},"axis":{"orient":"left","title":null,"values":[-2,-1,0,1,2]}}}},
{"data":{"name":"ttl"},"transform":[{"filter":"datum.p==3"}],"layer":[
{"mark":{"type":"text","align":"right","fontSize":24},"encoding":{"text":{"field":"m"},"x":{"datum":0.05,"scale":{"domain":[-2,2]},"axis":null},"y":{"datum":2.3,"scale":{"domain":[-2,2]},"axis":null}}},
{"mark":{"type":"text","align":"left","fontSize":15},"encoding":{"text":{"field":"s"},"x":{"datum":0.05,"scale":{"domain":[-2,2]},"axis":null},"y":{"datum":2.12,"scale":{"domain":[-2,2]},"axis":null}}},
{"mark":{"type":"text","align":"left","fontSize":15,"fontStyle":"italic"},"encoding":{"text":{"field":"i"},"x":{"datum":0.53,"scale":{"domain":[-2,2]},"axis":null},"y":{"datum":2.12,"scale":{"domain":[-2,2]},"axis":null}}}
]}
]},
{"width":157,"height":100,"layer":[
{"data":{"name":"core"},"transform":[{"filter":"datum.p==4"}],"mark":{"type":"point","filled":true,"opacity":1,"color":"#000","size":2116,"strokeWidth":0},"encoding":{"x":{"field":"x","type":"quantitative","scale":{"domain":[-2,2]},"axis":{"orient":"top","labels":false,"title":null,"values":[-1,0,1]}},"y":{"field":"y","type":"quantitative","scale":{"domain":[-2,2]},"axis":{"orient":"right","labels":false,"title":null,"values":[-1,0,1]}},"shape":{"field":"q","type":"nominal","scale":{"domain":["UL","UR","LL","LR"]},"legend":null}}},
{"data":{"name":"pts"},"transform":[{"filter":"datum.p==4"}],"mark":{"type":"circle","color":"#000","opacity":1,"size":9},"encoding":{"x":{"field":"x","type":"quantitative","scale":{"domain":[-2,2]},"axis":{"orient":"bottom","title":"in-phase","values":[-2,-1,0,1,2]}},"y":{"field":"y","type":"quantitative","scale":{"domain":[-2,2]},"axis":{"orient":"left","title":"quadrature","values":[-2,-1,0,1,2]}}}},
{"data":{"name":"ttl"},"transform":[{"filter":"datum.p==4"}],"layer":[
{"mark":{"type":"text","align":"right","fontSize":24},"encoding":{"text":{"field":"m"},"x":{"datum":0.05,"scale":{"domain":[-2,2]},"axis":null},"y":{"datum":2.3,"scale":{"domain":[-2,2]},"axis":null}}},
{"mark":{"type":"text","align":"left","fontSize":15},"encoding":{"text":{"field":"s"},"x":{"datum":0.05,"scale":{"domain":[-2,2]},"axis":null},"y":{"datum":2.12,"scale":{"domain":[-2,2]},"axis":null}}},
{"mark":{"type":"text","align":"left","fontSize":15,"fontStyle":"italic"},"encoding":{"text":{"field":"i"},"x":{"datum":0.53,"scale":{"domain":[-2,2]},"axis":null},"y":{"datum":2.12,"scale":{"domain":[-2,2]},"axis":null}}}
]}
]},
{"width":157,"height":100,"layer":[
{"data":{"name":"core"},"transform":[{"filter":"datum.p==5"}],"mark":{"type":"point","filled":true,"opacity":1,"color":"#000","size":2116,"strokeWidth":0},"encoding":{"x":{"field":"x","type":"quantitative","scale":{"domain":[-2,2]},"axis":{"orient":"top","labels":false,"title":null,"values":[-1,0,1]}},"y":{"field":"y","type":"quantitative","scale":{"domain":[-2,2]},"axis":{"orient":"right","labels":false,"title":null,"values":[-1,0,1]}},"shape":{"field":"q","type":"nominal","scale":{"domain":["UL","UR","LL","LR"]},"legend":null}}},
{"data":{"name":"pts"},"transform":[{"filter":"datum.p==5"}],"mark":{"type":"circle","color":"#000","opacity":1,"size":9},"encoding":{"x":{"field":"x","type":"quantitative","scale":{"domain":[-2,2]},"axis":{"orient":"bottom","title":"in-phase","values":[-2,-1,0,1,2]}},"y":{"field":"y","type":"quantitative","scale":{"domain":[-2,2]},"axis":{"orient":"left","title":null,"values":[-2,-1,0,1,2]}}}},
{"data":{"name":"ttl"},"transform":[{"filter":"datum.p==5"}],"layer":[
{"mark":{"type":"text","align":"right","fontSize":24},"encoding":{"text":{"field":"m"},"x":{"datum":0.05,"scale":{"domain":[-2,2]},"axis":null},"y":{"datum":2.3,"scale":{"domain":[-2,2]},"axis":null}}},
{"mark":{"type":"text","align":"left","fontSize":15},"encoding":{"text":{"field":"s"},"x":{"datum":0.05,"scale":{"domain":[-2,2]},"axis":null},"y":{"datum":2.12,"scale":{"domain":[-2,2]},"axis":null}}},
{"mark":{"type":"text","align":"left","fontSize":15,"fontStyle":"italic"},"encoding":{"text":{"field":"i"},"x":{"datum":0.53,"scale":{"domain":[-2,2]},"axis":null},"y":{"datum":2.12,"scale":{"domain":[-2,2]},"axis":null}}}
]}
]},
{"width":157,"height":100,"layer":[
{"data":{"name":"core"},"transform":[{"filter":"datum.p==6"}],"mark":{"type":"point","filled":true,"opacity":1,"color":"#000","size":2116,"strokeWidth":0},"encoding":{"x":{"field":"x","type":"quantitative","scale":{"domain":[-2,2]},"axis":{"orient":"top","labels":false,"title":null,"values":[-1,0,1]}},"y":{"field":"y","type":"quantitative","scale":{"domain":[-2,2]},"axis":{"orient":"right","labels":false,"title":null,"values":[-1,0,1]}},"shape":{"field":"q","type":"nominal","scale":{"domain":["UL","UR","LL","LR"]},"legend":null}}},
{"data":{"name":"pts"},"transform":[{"filter":"datum.p==6"}],"mark":{"type":"circle","color":"#000","opacity":1,"size":9},"encoding":{"x":{"field":"x","type":"quantitative","scale":{"domain":[-2,2]},"axis":{"orient":"bottom","title":"in-phase","values":[-2,-1,0,1,2]}},"y":{"field":"y","type":"quantitative","scale":{"domain":[-2,2]},"axis":{"orient":"left","title":null,"values":[-2,-1,0,1,2]}}}},
{"data":{"name":"ttl"},"transform":[{"filter":"datum.p==6"}],"layer":[
{"mark":{"type":"text","align":"right","fontSize":24},"encoding":{"text":{"field":"m"},"x":{"datum":0.05,"scale":{"domain":[-2,2]},"axis":null},"y":{"datum":2.3,"scale":{"domain":[-2,2]},"axis":null}}},
{"mark":{"type":"text","align":"left","fontSize":15},"encoding":{"text":{"field":"s"},"x":{"datum":0.05,"scale":{"domain":[-2,2]},"axis":null},"y":{"datum":2.12,"scale":{"domain":[-2,2]},"axis":null}}},
{"mark":{"type":"text","align":"left","fontSize":15,"fontStyle":"italic"},"encoding":{"text":{"field":"i"},"x":{"datum":0.53,"scale":{"domain":[-2,2]},"axis":null},"y":{"datum":2.12,"scale":{"domain":[-2,2]},"axis":null}}}
]}
]},
{"width":157,"height":100,"layer":[
{"data":{"name":"core"},"transform":[{"filter":"datum.p==7"}],"mark":{"type":"point","filled":true,"opacity":1,"color":"#000","size":2116,"strokeWidth":0},"encoding":{"x":{"field":"x","type":"quantitative","scale":{"domain":[-2,2]},"axis":{"orient":"top","labels":false,"title":null,"values":[-1,0,1]}},"y":{"field":"y","type":"quantitative","scale":{"domain":[-2,2]},"axis":{"orient":"right","labels":false,"title":null,"values":[-1,0,1]}},"shape":{"field":"q","type":"nominal","scale":{"domain":["UL","UR","LL","LR"]},"legend":null}}},
{"data":{"name":"pts"},"transform":[{"filter":"datum.p==7"}],"mark":{"type":"circle","color":"#000","opacity":1,"size":9},"encoding":{"x":{"field":"x","type":"quantitative","scale":{"domain":[-2,2]},"axis":{"orient":"bottom","title":"in-phase","values":[-2,-1,0,1,2]}},"y":{"field":"y","type":"quantitative","scale":{"domain":[-2,2]},"axis":{"orient":"left","title":"quadrature","values":[-2,-1,0,1,2]}}}},
{"data":{"name":"ttl"},"transform":[{"filter":"datum.p==7"}],"layer":[
{"mark":{"type":"text","align":"right","fontSize":24},"encoding":{"text":{"field":"m"},"x":{"datum":0.05,"scale":{"domain":[-2,2]},"axis":null},"y":{"datum":2.3,"scale":{"domain":[-2,2]},"axis":null}}},
{"mark":{"type":"text","align":"left","fontSize":15},"encoding":{"text":{"field":"s"},"x":{"datum":0.05,"scale":{"domain":[-2,2]},"axis":null},"y":{"datum":2.12,"scale":{"domain":[-2,2]},"axis":null}}},
{"mark":{"type":"text","align":"left","fontSize":15,"fontStyle":"italic"},"encoding":{"text":{"field":"i"},"x":{"datum":0.53,"scale":{"domain":[-2,2]},"axis":null},"y":{"datum":2.12,"scale":{"domain":[-2,2]},"axis":null}}},
{"mark":{"type":"text","align":"left","fontSize":24},"encoding":{"text":{"field":"g"},"x":{"datum":-3.41,"scale":{"domain":[-2,2]},"axis":null},"y":{"datum":2.15,"scale":{"domain":[-2,2]},"axis":null}}}
]}
]},
{"width":157,"height":100,"layer":[
{"data":{"name":"core"},"transform":[{"filter":"datum.p==8"}],"mark":{"type":"point","filled":true,"opacity":1,"color":"#000","size":2116,"strokeWidth":0},"encoding":{"x":{"field":"x","type":"quantitative","scale":{"domain":[-2,2]},"axis":{"orient":"top","labels":false,"title":null,"values":[-1,0,1]}},"y":{"field":"y","type":"quantitative","scale":{"domain":[-2,2]},"axis":{"orient":"right","labels":false,"title":null,"values":[-1,0,1]}},"shape":{"field":"q","type":"nominal","scale":{"domain":["UL","UR","LL","LR"]},"legend":null}}},
{"data":{"name":"pts"},"transform":[{"filter":"datum.p==8"}],"mark":{"type":"circle","color":"#000","opacity":1,"size":9},"encoding":{"x":{"field":"x","type":"quantitative","scale":{"domain":[-2,2]},"axis":{"orient":"bottom","title":"in-phase","values":[-2,-1,0,1,2]}},"y":{"field":"y","type":"quantitative","scale":{"domain":[-2,2]},"axis":{"orient":"left","title":null,"values":[-2,-1,0,1,2]}}}},
{"data":{"name":"ttl"},"transform":[{"filter":"datum.p==8"}],"layer":[
{"mark":{"type":"text","align":"right","fontSize":24},"encoding":{"text":{"field":"m"},"x":{"datum":0.05,"scale":{"domain":[-2,2]},"axis":null},"y":{"datum":2.3,"scale":{"domain":[-2,2]},"axis":null}}},
{"mark":{"type":"text","align":"left","fontSize":15},"encoding":{"text":{"field":"s"},"x":{"datum":0.05,"scale":{"domain":[-2,2]},"axis":null},"y":{"datum":2.12,"scale":{"domain":[-2,2]},"axis":null}}},
{"mark":{"type":"text","align":"left","fontSize":15,"fontStyle":"italic"},"encoding":{"text":{"field":"i"},"x":{"datum":0.53,"scale":{"domain":[-2,2]},"axis":null},"y":{"datum":2.12,"scale":{"domain":[-2,2]},"axis":null}}}
]}
]},
{"width":157,"height":100,"layer":[
{"data":{"name":"core"},"transform":[{"filter":"datum.p==9"}],"mark":{"type":"point","filled":true,"opacity":1,"color":"#000","size":2116,"strokeWidth":0},"encoding":{"x":{"field":"x","type":"quantitative","scale":{"domain":[-2,2]},"axis":{"orient":"top","labels":false,"title":null,"values":[-1,0,1]}},"y":{"field":"y","type":"quantitative","scale":{"domain":[-2,2]},"axis":{"orient":"right","labels":false,"title":null,"values":[-1,0,1]}},"shape":{"field":"q","type":"nominal","scale":{"domain":["UL","UR","LL","LR"]},"legend":null}}},
{"data":{"name":"pts"},"transform":[{"filter":"datum.p==9"}],"mark":{"type":"circle","color":"#000","opacity":1,"size":9},"encoding":{"x":{"field":"x","type":"quantitative","scale":{"domain":[-2,2]},"axis":{"orient":"bottom","title":"in-phase","values":[-2,-1,0,1,2]}},"y":{"field":"y","type":"quantitative","scale":{"domain":[-2,2]},"axis":{"orient":"left","title":null,"values":[-2,-1,0,1,2]}}}},
{"data":{"name":"ttl"},"transform":[{"filter":"datum.p==9"}],"layer":[
{"mark":{"type":"text","align":"right","fontSize":24},"encoding":{"text":{"field":"m"},"x":{"datum":0.05,"scale":{"domain":[-2,2]},"axis":null},"y":{"datum":2.3,"scale":{"domain":[-2,2]},"axis":null}}},
{"mark":{"type":"text","align":"left","fontSize":15},"encoding":{"text":{"field":"s"},"x":{"datum":0.05,"scale":{"domain":[-2,2]},"axis":null},"y":{"datum":2.12,"scale":{"domain":[-2,2]},"axis":null}}},
{"mark":{"type":"text","align":"left","fontSize":15,"fontStyle":"italic"},"encoding":{"text":{"field":"i"},"x":{"datum":0.53,"scale":{"domain":[-2,2]},"axis":null},"y":{"datum":2.12,"scale":{"domain":[-2,2]},"axis":null}}}
]}
]},
{"width":157,"height":100,"layer":[
{"data":{"name":"core"},"transform":[{"filter":"datum.p==10"}],"mark":{"type":"point","filled":true,"opacity":1,"color":"#000","size":2116,"strokeWidth":0},"encoding":{"x":{"field":"x","type":"quantitative","scale":{"domain":[-2,2]},"axis":{"orient":"top","labels":false,"title":null,"values":[-1,0,1]}},"y":{"field":"y","type":"quantitative","scale":{"domain":[-2,2]},"axis":{"orient":"right","labels":false,"title":null,"values":[-1,0,1]}},"shape":{"field":"q","type":"nominal","scale":{"domain":["UL","UR","LL","LR"]},"legend":null}}},
{"data":{"name":"pts"},"transform":[{"filter":"datum.p==10"}],"mark":{"type":"circle","color":"#000","opacity":1,"size":9},"encoding":{"x":{"field":"x","type":"quantitative","scale":{"domain":[-2,2]},"axis":{"orient":"bottom","title":"in-phase","values":[-2,-1,0,1,2]}},"y":{"field":"y","type":"quantitative","scale":{"domain":[-2,2]},"axis":{"orient":"left","title":"quadrature","values":[-2,-1,0,1,2]}}}},
{"data":{"name":"ttl"},"transform":[{"filter":"datum.p==10"}],"layer":[
{"mark":{"type":"text","align":"right","fontSize":24},"encoding":{"text":{"field":"m"},"x":{"datum":0.05,"scale":{"domain":[-2,2]},"axis":null},"y":{"datum":2.3,"scale":{"domain":[-2,2]},"axis":null}}},
{"mark":{"type":"text","align":"left","fontSize":15},"encoding":{"text":{"field":"s"},"x":{"datum":0.05,"scale":{"domain":[-2,2]},"axis":null},"y":{"datum":2.12,"scale":{"domain":[-2,2]},"axis":null}}},
{"mark":{"type":"text","align":"left","fontSize":15,"fontStyle":"italic"},"encoding":{"text":{"field":"i"},"x":{"datum":0.53,"scale":{"domain":[-2,2]},"axis":null},"y":{"datum":2.12,"scale":{"domain":[-2,2]},"axis":null}}}
]}
]},
{"width":157,"height":100,"layer":[
{"data":{"name":"core"},"transform":[{"filter":"datum.p==11"}],"mark":{"type":"point","filled":true,"opacity":1,"color":"#000","size":2116,"strokeWidth":0},"encoding":{"x":{"field":"x","type":"quantitative","scale":{"domain":[-2,2]},"axis":{"orient":"top","labels":false,"title":null,"values":[-1,0,1]}},"y":{"field":"y","type":"quantitative","scale":{"domain":[-2,2]},"axis":{"orient":"right","labels":false,"title":null,"values":[-1,0,1]}},"shape":{"field":"q","type":"nominal","scale":{"domain":["UL","UR","LL","LR"]},"legend":null}}},
{"data":{"name":"pts"},"transform":[{"filter":"datum.p==11"}],"mark":{"type":"circle","color":"#000","opacity":1,"size":9},"encoding":{"x":{"field":"x","type":"quantitative","scale":{"domain":[-2,2]},"axis":{"orient":"bottom","title":"in-phase","values":[-2,-1,0,1,2]}},"y":{"field":"y","type":"quantitative","scale":{"domain":[-2,2]},"axis":{"orient":"left","title":null,"values":[-2,-1,0,1,2]}}}},
{"data":{"name":"ttl"},"transform":[{"filter":"datum.p==11"}],"layer":[
{"mark":{"type":"text","align":"right","fontSize":24},"encoding":{"text":{"field":"m"},"x":{"datum":0.05,"scale":{"domain":[-2,2]},"axis":null},"y":{"datum":2.3,"scale":{"domain":[-2,2]},"axis":null}}},
{"mark":{"type":"text","align":"left","fontSize":15},"encoding":{"text":{"field":"s"},"x":{"datum":0.05,"scale":{"domain":[-2,2]},"axis":null},"y":{"datum":2.12,"scale":{"domain":[-2,2]},"axis":null}}},
{"mark":{"type":"text","align":"left","fontSize":15,"fontStyle":"italic"},"encoding":{"text":{"field":"i"},"x":{"datum":0.53,"scale":{"domain":[-2,2]},"axis":null},"y":{"datum":2.12,"scale":{"domain":[-2,2]},"axis":null}}}
]}
]},
{"width":157,"height":100,"layer":[
{"data":{"name":"core"},"transform":[{"filter":"datum.p==12"}],"mark":{"type":"point","filled":true,"opacity":1,"color":"#000","size":2116,"strokeWidth":0},"encoding":{"x":{"field":"x","type":"quantitative","scale":{"domain":[-2,2]},"axis":{"orient":"top","labels":false,"title":null,"values":[-1,0,1]}},"y":{"field":"y","type":"quantitative","scale":{"domain":[-2,2]},"axis":{"orient":"right","labels":false,"title":null,"values":[-1,0,1]}},"shape":{"field":"q","type":"nominal","scale":{"domain":["UL","UR","LL","LR"]},"legend":null}}},
{"data":{"name":"pts"},"transform":[{"filter":"datum.p==12"}],"mark":{"type":"circle","color":"#000","opacity":1,"size":9},"encoding":{"x":{"field":"x","type":"quantitative","scale":{"domain":[-2,2]},"axis":{"orient":"bottom","title":"in-phase","values":[-2,-1,0,1,2]}},"y":{"field":"y","type":"quantitative","scale":{"domain":[-2,2]},"axis":{"orient":"left","title":null,"values":[-2,-1,0,1,2]}}}},
{"data":{"name":"ttl"},"transform":[{"filter":"datum.p==12"}],"layer":[
{"mark":{"type":"text","align":"right","fontSize":24},"encoding":{"text":{"field":"m"},"x":{"datum":0.05,"scale":{"domain":[-2,2]},"axis":null},"y":{"datum":2.3,"scale":{"domain":[-2,2]},"axis":null}}},
{"mark":{"type":"text","align":"left","fontSize":15},"encoding":{"text":{"field":"s"},"x":{"datum":0.05,"scale":{"domain":[-2,2]},"axis":null},"y":{"datum":2.12,"scale":{"domain":[-2,2]},"axis":null}}},
{"mark":{"type":"text","align":"left","fontSize":15,"fontStyle":"italic"},"encoding":{"text":{"field":"i"},"x":{"datum":0.53,"scale":{"domain":[-2,2]},"axis":null},"y":{"datum":2.12,"scale":{"domain":[-2,2]},"axis":null}}}
]}
]}
]
}
